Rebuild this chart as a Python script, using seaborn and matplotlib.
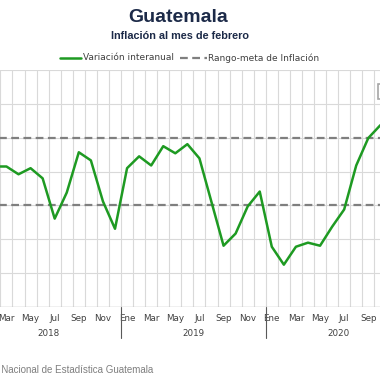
#! /usr/bin/env python3

import pandas as pd
import matplotlib.pyplot as plt
from matplotlib.patches import Rectangle
import seaborn as sns

# meses: indice 0 = Ene 2018
MESES = ['Ene', 'Feb', 'Mar', 'Abr', 'May', 'Jun',
         'Jul', 'Ago', 'Sep', 'Oct', 'Nov', 'Dic']
ANIOS = ['2018', '2019', '2020']

# variacion interanual, de Feb 2018 a Oct 2020
inicio = 1
variacion = [4.15, 4.15, 3.92, 4.10, 3.80, 2.61, 3.38, 4.57, 4.33, 3.12, 2.31,
             4.10, 4.45, 4.18, 4.75, 4.54, 4.81, 4.39, 3.10, 1.81, 2.17, 2.97, 3.41,
             1.78, 1.25, 1.78, 1.90, 1.81, 2.37, 2.88, 4.18, 4.99, 5.37]

meta_inferior = 3.0
meta_superior = 5.0

VERDE = '#1e9a22'
GRIS = '#7f7f7f'
TEXTO = '#404040'
AZUL = '#1c2a48'


def armar_datos() -> pd.DataFrame:
    n = len(variacion)
    return pd.DataFrame({'mes': list(range(inicio, inicio + n)),
                         'valor': variacion})


if __name__ == '__main__':
    sns.set_style('white')
    plt.rcParams['font.family'] = ['DejaVu Sans']

    data = armar_datos()
    n_meses = 12 * len(ANIOS)

    fig = plt.figure(figsize=(3.8, 3.8), dpi=100)
    # eje mas ancho que la figura: el grafico original esta recortado
    ax = fig.add_axes([-23.7 / 380, 73 / 380, 434.2 / 380, 237 / 380])

    ax.set_xlim(-0.5, n_meses - 0.5)
    ax.set_ylim(0, 7)

    # grilla
    for x in range(n_meses + 1):
        ax.axvline(x - 0.5, color='#d9d9d9', lw=0.8, zorder=0)
    for y in range(0, 8):
        ax.axhline(y, color='#d9d9d9', lw=0.8, zorder=0)

    ax.axhline(meta_superior, color=GRIS, lw=1.6, ls=(0, (3.5, 2)), zorder=1)
    ax.axhline(meta_inferior, color=GRIS, lw=1.6, ls=(0, (3.5, 2)), zorder=1)

    sns.lineplot(x='mes', y='valor', data=data, ax=ax, color=VERDE,
                 lw=1.8, zorder=3)

    for s in ax.spines.values():
        s.set_visible(False)
    ax.axhline(0, color='#bfbfbf', lw=1.0, zorder=2)

    ticks = list(range(0, n_meses, 2))
    ax.set_xticks(ticks)
    ax.set_xticklabels([MESES[t % 12] for t in ticks], fontsize=6.3, color=TEXTO)
    ax.tick_params(axis='x', length=0, pad=5)
    ax.set_yticks([])
    ax.set_xlabel('')
    ax.set_ylabel('')

    trans = ax.get_xaxis_transform()
    for k, anio in enumerate(ANIOS):
        ax.text(12 * k + 5.5, -26 / 237, anio, transform=trans, ha='center',
                va='center', fontsize=6.3, color=TEXTO)
        if k > 0:
            ax.plot([12 * k - 0.5] * 2, [0, -31 / 237], transform=trans,
                    color='#595959', lw=0.8, clip_on=False)

    fig.text(178 / 380, 1 - 17 / 380, 'Guatemala', ha='center', va='center',
             fontsize=14, fontweight='bold', color=AZUL,
             family=['Liberation Sans'])
    fig.text(180 / 380, 1 - 36 / 380, 'Inflación al mes de febrero', ha='center',
             va='center', fontsize=7.8, fontweight='bold', color=AZUL,
             family=['Liberation Sans'])

    # leyenda
    ly = 1 - 58 / 380
    fig.add_artist(plt.Line2D([60 / 380, 81 / 380], [ly, ly], color=VERDE, lw=1.8))
    fig.text(83 / 380, ly, 'Variación interanual', ha='left', va='center',
             fontsize=6.5, color=TEXTO)
    fig.add_artist(plt.Line2D([180 / 380, 207 / 380], [ly, ly], color=GRIS,
                              lw=1.6, ls=(0, (3.5, 2))))
    fig.text(208 / 380, ly, 'Rango-meta de Inflación', ha='left', va='center',
             fontsize=6.5, color=TEXTO)

    # borde de un recuadro que queda fuera del recorte
    fig.add_artist(Rectangle((378 / 380, 1 - 99 / 380), 10 / 380, 15 / 380,
                             transform=fig.transFigure, facecolor='white',
                             edgecolor='#a6a6a6', lw=1.2, zorder=5))

    fig.text(153 / 380, 1 - 370 / 380,
             'Fuente: Instituto Nacional de Estadística Guatemala',
             ha='right', va='center', fontsize=7, color=GRIS,
             family=['Liberation Sans'])

    plt.savefig('out.png', dpi=100)
